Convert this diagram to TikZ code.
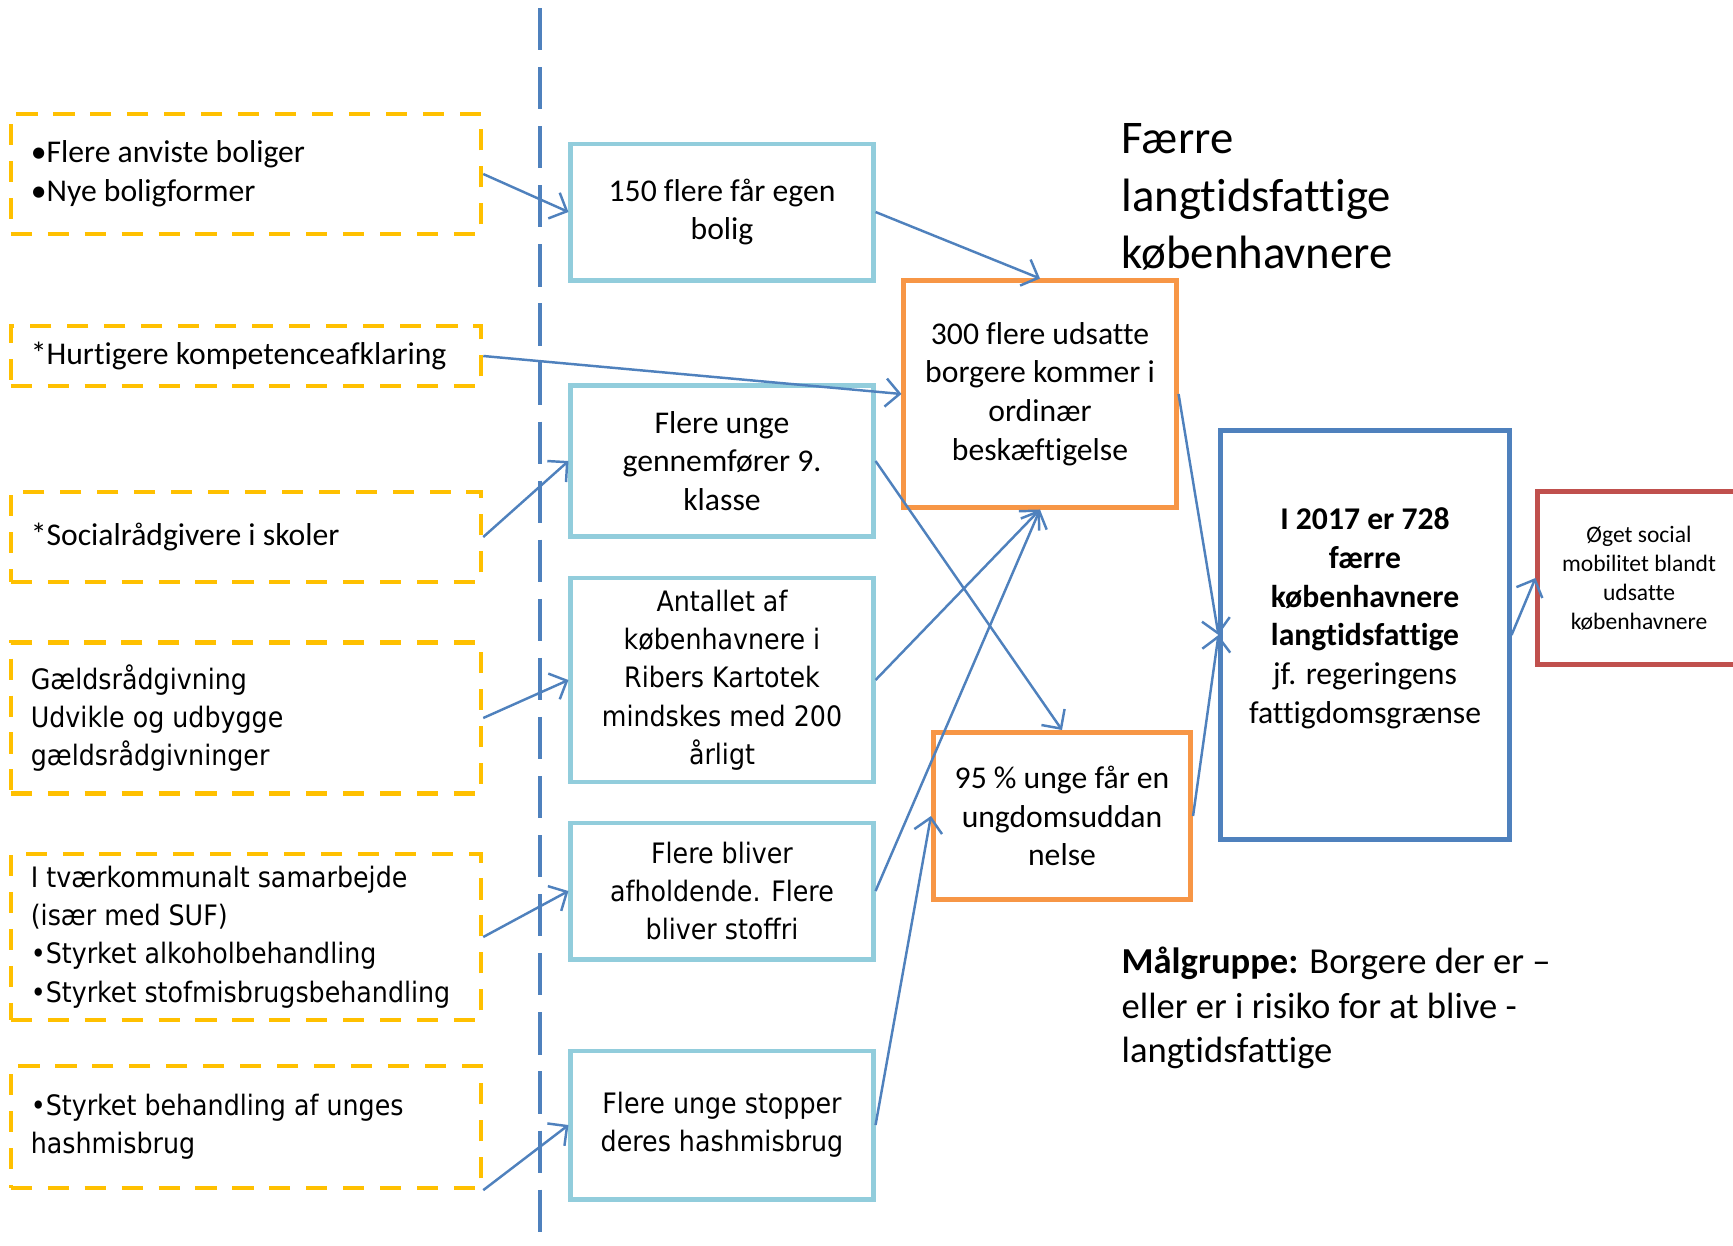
\documentclass[tikz,border=0pt]{standalone}
\usepackage{fontspec}
\setmainfont{Carlito}[Ligatures=NoCommon]
\newfontfamily\verdfont{DejaVu Sans}[FakeStretch=0.9]
\usetikzlibrary{arrows.meta}

\definecolor{tiltaggul}{HTML}{FFC000}
\definecolor{linjeblaa}{HTML}{4F81BD}
\definecolor{lysblaa}{HTML}{92CDDC}
\definecolor{maalorange}{HTML}{F79646}
\definecolor{roed}{HTML}{C0504D}

\newcommand\boxfont{\fontsize{9}{11}\selectfont}
\newcommand\widefont{\verdfont\fontsize{8}{10.9}\selectfont}

\begin{document}
\begin{tikzpicture}[x=0.01cm,y=-0.01cm,
  >={Straight Barb[length=4pt,width=8pt]},
  tiltag/.style={draw=tiltaggul,line width=1.2pt,dash pattern=on 6pt off 4.5pt,
    text width=4.3cm,inner xsep=0.2cm,align=flush left},
  effekt/.style={draw=lysblaa,line width=1.4pt,minimum width=3.02cm,align=center},
  resultat/.style={draw=maalorange,line width=1.4pt,align=center,font=\boxfont},
  pil/.style={->,linjeblaa,line width=0.7pt}]

\useasboundingbox (0,0) rectangle (1733,1245);

% Dashed divider
\draw[linjeblaa,line width=1.4pt,dash pattern=on 12pt off 4.8pt] (540,8) -- (540,1245);

% Initiatives
\node[tiltag,font=\boxfont,minimum height=1.2cm] (boliger) at (246,174) {•Flere anviste boliger\\•Nye boligformer};
\node[tiltag,font=\boxfont,minimum height=0.6cm] (kompetence) at (246,356) {*Hurtigere kompetenceafklaring};
\node[tiltag,font=\boxfont,minimum height=0.9cm] (skoler) at (246,537) {*Socialrådgivere i skoler};
\node[tiltag,font=\widefont,minimum height=1.51cm] (gaeld) at (246,718) {Gældsrådgivning\\Udvikle og udbygge\\gældsrådgivninger};
\node[tiltag,font=\widefont,minimum height=1.66cm] (misbrug) at (246,937) {I tværkommunalt samarbejde\\(især med SUF)\\•Styrket alkoholbehandling\\•Styrket stofmisbrugsbehandling};
\node[tiltag,font=\widefont,minimum height=1.22cm] (hash) at (246,1127) {•Styrket behandling af unges\\hashmisbrug};

% Effects
\node[effekt,font=\boxfont,minimum height=1.36cm] (egenbolig) at (722,212) {150 flere får egen\\bolig};
\node[effekt,font=\boxfont,minimum height=1.51cm] (niende) at (722,461) {Flere unge\\gennemfører 9.\\klasse};
\node[effekt,font=\widefont,minimum height=1.97cm] (kartotek) at (722,680) {Antallet af\\københavnere i\\Ribers Kartotek\\mindskes med 200\\årligt};
\node[effekt,font=\widefont,minimum height=1.36cm] (stoffri) at (722,891) {Flere bliver\\afholdende. Flere\\bliver stoffri};
\node[effekt,font=\widefont,minimum height=1.48cm] (hashstop) at (722,1125) {Flere unge stopper\\deres hashmisbrug};

% Results
\node[resultat,minimum width=2.72cm,minimum height=2.26cm] (beskaeft) at (1040,394) {300 flere udsatte\\borgere kommer i\\ordinær\\beskæftigelse};
\node[resultat,minimum width=2.57cm,minimum height=1.67cm] (uddannelse) at (1062,816) {95 \% unge får en\\ungdomsuddan\\nelse};
\node[draw=linjeblaa,line width=1.4pt,align=center,font=\boxfont,minimum width=2.88cm,minimum height=4.08cm] (maal) at (1365,635)
  {\textbf{I 2017 er 728}\\\textbf{færre}\\\textbf{københavnere}\\\textbf{langtidsfattige}\\jf. regeringens\\fattigdomsgrænse\\\mbox{}};
\node[draw=roed,line width=1.4pt,align=center,font=\fontsize{6.7}{8.2}\selectfont,minimum width=2.02cm,minimum height=1.72cm] (mobilitet) at (1639,578)
  {Øget social\\mobilitet blandt\\udsatte\\københavnere};

% Texts
\node[anchor=west,inner sep=0pt,align=left,font=\fontsize{13.3}{16.3}\selectfont] (titel) at (1121,197) {Færre\\langtidsfattige\\københavnere};
\node[anchor=west,inner sep=0pt,align=left,font=\fontsize{10.4}{12.7}\selectfont] (maalgruppe) at (1121,1008)
  {\textbf{Målgruppe:} Borgere der er –\\eller er i risiko for at blive -\\langtidsfattige};

% Lines
\draw[pil] (boliger.east) -- (egenbolig.west);
\draw[pil] (egenbolig.east) -- (beskaeft.north);
\draw[pil] (kompetence.east) -- (beskaeft.west);
\draw[pil] (skoler.east) -- (niende.west);
\draw[pil] (niende.east) -- (uddannelse.north);
\draw[pil] (gaeld.east) -- (kartotek.west);
\draw[pil] (kartotek.east) -- (beskaeft.south);
\draw[pil] (misbrug.east) -- (stoffri.west);
\draw[pil] (stoffri.east) -- (beskaeft.south);
\draw[pil] (hash.south east) -- (hashstop.west);
\draw[pil] (hashstop.east) -- (uddannelse.west);
\draw[pil] (beskaeft.east) -- (maal.west);
\draw[pil] (uddannelse.east) -- (maal.west);
\draw[pil] (maal.east) -- (mobilitet.west);

\end{tikzpicture}
\end{document}
